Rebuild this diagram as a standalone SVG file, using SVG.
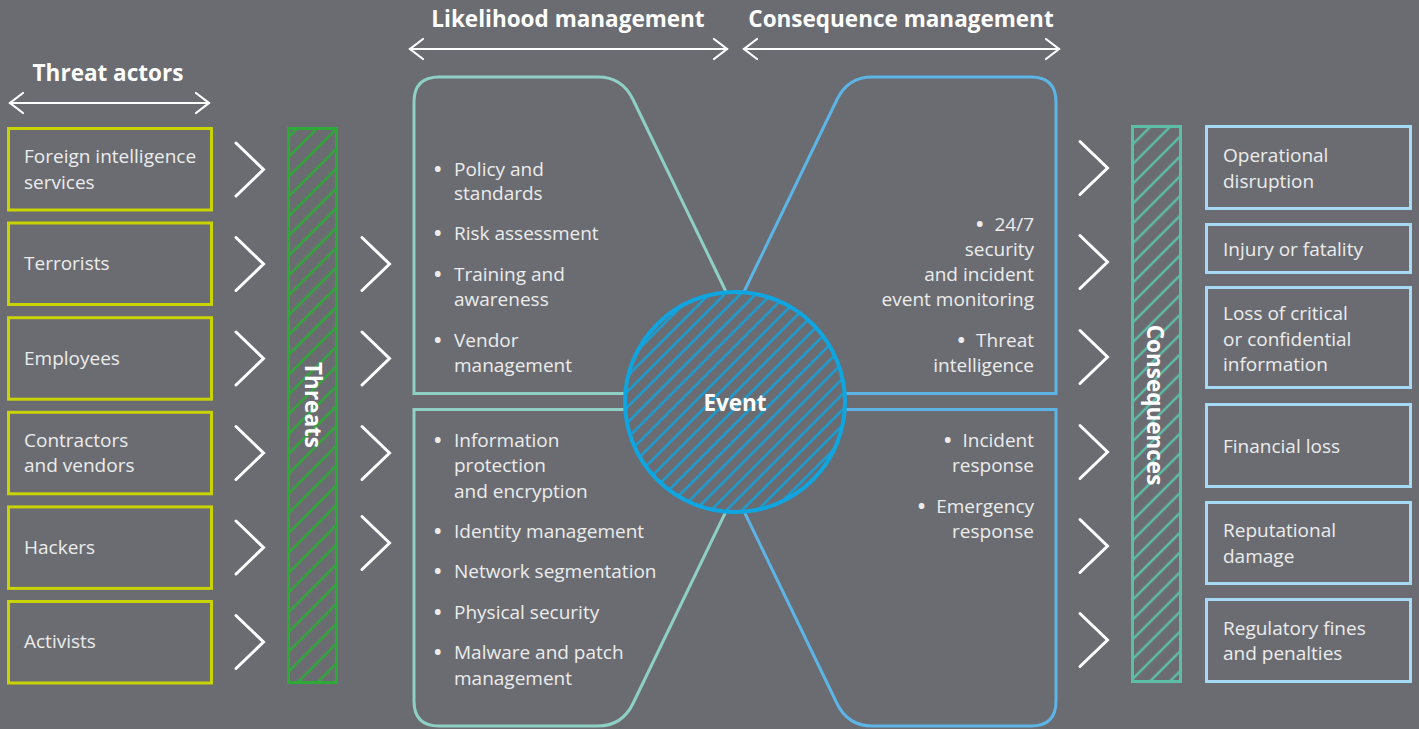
<svg xmlns="http://www.w3.org/2000/svg" width="1419" height="729" viewBox="0 0 1419 729">
<defs>
<style>
.bg{fill:#6b6c72}
.t{font-family:"Open Sans","Liberation Sans",sans-serif;font-size:19px;fill:#ececec}
.b{font-weight:bold;font-size:20px}
.h{font-family:"Open Sans","Liberation Sans",sans-serif;font-size:22.5px;font-weight:bold;fill:#ffffff}
.actor{fill:none;stroke:#c9d300;stroke-width:3}
.cons{fill:none;stroke:#a6d9f3;stroke-width:3}
.chev{fill:none;stroke:#ffffff;stroke-width:3;stroke-linecap:round;stroke-linejoin:miter}
.arr{fill:none;stroke:#ffffff;stroke-width:2.2;stroke-linecap:round}
.lm{fill:none;stroke:#8fd0c6;stroke-width:3}
.cm{fill:none;stroke:#5cb5e6;stroke-width:3}
</style>
<pattern id="hatchG" patternUnits="userSpaceOnUse" width="14" height="14" patternTransform="rotate(45)">
<line x1="7" y1="0" x2="7" y2="14" stroke="#2ea836" stroke-width="2.4"/>
</pattern>
<pattern id="hatchT" patternUnits="userSpaceOnUse" width="14" height="14" patternTransform="rotate(45)">
<line x1="7" y1="0" x2="7" y2="14" stroke="#5cbea6" stroke-width="2.4"/>
</pattern>
<pattern id="hatchB" patternUnits="userSpaceOnUse" width="11" height="11" patternTransform="rotate(45)">
<line x1="5.5" y1="0" x2="5.5" y2="11" stroke="#0ea5e0" stroke-width="2.2"/>
</pattern>
<symbol id="chev" overflow="visible"><polyline class="chev" points="0,-26.5 27.5,0 0,26.5"/></symbol>
</defs>
<rect class="bg" x="0" y="0" width="1419" height="729"/>

<g id="headers">
<text class="h" x="108" y="81" text-anchor="middle">Threat actors</text>
<g class="arr"><line x1="10" y1="103" x2="209" y2="103"/><polyline points="23,93 10,103 23,113"/><polyline points="196,93 209,103 196,113"/></g>
<text class="h" x="568" y="27" text-anchor="middle">Likelihood management</text>
<g class="arr"><line x1="410" y1="49" x2="727" y2="49"/><polyline points="423,39 410,49 423,59"/><polyline points="714,39 727,49 714,59"/></g>
<text class="h" x="901" y="27" text-anchor="middle">Consequence management</text>
<g class="arr"><line x1="744" y1="49" x2="1059" y2="49"/><polyline points="757,39 744,49 757,59"/><polyline points="1046,39 1059,49 1046,59"/></g>
</g>

<g id="actor-foreign"><rect class="actor" x="8.5" y="128.5" width="203" height="81.5"/><text class="t" x="24" y="163">Foreign intelligence</text><text class="t" x="24" y="189">services</text></g>
<g id="actor-terrorists"><rect class="actor" x="8.5" y="223" width="203" height="81.5"/><text class="t" x="24" y="270">Terrorists</text></g>
<g id="actor-employees"><rect class="actor" x="8.5" y="317.7" width="203" height="81.5"/><text class="t" x="24" y="365">Employees</text></g>
<g id="actor-contractors"><rect class="actor" x="8.5" y="412.3" width="203" height="81.5"/><text class="t" x="24" y="447">Contractors</text><text class="t" x="24" y="472">and vendors</text></g>
<g id="actor-hackers"><rect class="actor" x="8.5" y="506.9" width="203" height="81.5"/><text class="t" x="24" y="554">Hackers</text></g>
<g id="actor-activists"><rect class="actor" x="8.5" y="601.5" width="203" height="81.5"/><text class="t" x="24" y="648">Activists</text></g>

<g id="threats">
<rect x="288.5" y="128.5" width="48" height="554" fill="url(#hatchG)" stroke="#2ea836" stroke-width="3"/>
<text class="h" x="313" y="405" text-anchor="middle" transform="rotate(90 313 405)" dy="8">Threats</text>
</g>

<g id="likelihood-top">
<path class="lm" d="M 730 300 L 633 99.5 Q 622 77 598 77 H 439 Q 414 77 414 102 V 393.5 H 735"/>
<g class="t"><text class="b" x="434" y="176">•</text><text x="454" y="176">Policy and</text><text x="454" y="200">standards</text>
<text class="b" x="434" y="240">•</text><text x="454" y="240">Risk assessment</text>
<text class="b" x="434" y="281">•</text><text x="454" y="281">Training and</text><text x="454" y="306">awareness</text>
<text class="b" x="434" y="347">•</text><text x="454" y="347">Vendor</text><text x="454" y="372">management</text></g>
</g>

<g id="likelihood-bottom">
<path class="lm" d="M 730 503 L 633 703.5 Q 622 726 598 726 H 439 Q 414 726 414 701 V 409.5 H 735"/>
<g class="t"><text class="b" x="434" y="447">•</text><text x="454" y="447">Information</text><text x="454" y="472">protection</text><text x="454" y="498">and encryption</text>
<text class="b" x="434" y="538">•</text><text x="454" y="538">Identity management</text>
<text class="b" x="434" y="578">•</text><text x="454" y="578">Network segmentation</text>
<text class="b" x="434" y="619">•</text><text x="454" y="619">Physical security</text>
<text class="b" x="434" y="659">•</text><text x="454" y="659">Malware and patch</text><text x="454" y="685">management</text></g>
</g>

<g id="consequence-top">
<path class="cm" d="M 740 300 L 837 99.5 Q 848 77 872 77 H 1031 Q 1056 77 1056 102 V 393.5 H 735"/>
<g class="t" text-anchor="end"><text x="1034" y="231"><tspan class="b">•</tspan><tspan dx="11">24/7</tspan></text><text x="1034" y="256">security</text><text x="1034" y="281">and incident</text><text x="1034" y="306">event monitoring</text>
<text x="1034" y="347"><tspan class="b">•</tspan><tspan dx="11">Threat</tspan></text><text x="1034" y="372">intelligence</text></g>
</g>

<g id="consequence-bottom">
<path class="cm" d="M 740 503 L 837 703.5 Q 848 726 872 726 H 1031 Q 1056 726 1056 701 V 409.5 H 735"/>
<g class="t" text-anchor="end"><text x="1034" y="447"><tspan class="b">•</tspan><tspan dx="11">Incident</tspan></text><text x="1034" y="472">response</text>
<text x="1034" y="513"><tspan class="b">•</tspan><tspan dx="11">Emergency</tspan></text><text x="1034" y="538">response</text></g>
</g>

<g id="event">
<circle cx="735" cy="402" r="110" fill="#6b6c72"/>
<circle cx="735" cy="402" r="110" fill="url(#hatchB)" stroke="#0ea5e0" stroke-width="4"/>
<text class="h" x="735" y="411" text-anchor="middle">Event</text>
</g>

<g id="consequences">
<rect x="1132.5" y="126.5" width="48" height="555" fill="url(#hatchT)" stroke="#5cbea6" stroke-width="3"/>
<text class="h" x="1156" y="405" text-anchor="middle" transform="rotate(90 1156 405)" dy="9">Consequences</text>
</g>

<g id="cons-operational"><rect class="cons" x="1206.5" y="126.5" width="204" height="82"/><text class="t" x="1223" y="162">Operational</text><text class="t" x="1223" y="188">disruption</text></g>
<g id="cons-injury"><rect class="cons" x="1206.5" y="224.5" width="204" height="48"/><text class="t" x="1223" y="256">Injury or fatality</text></g>
<g id="cons-loss"><rect class="cons" x="1206.5" y="287.5" width="204" height="100"/><text class="t" x="1223" y="320">Loss of critical</text><text class="t" x="1223" y="346">or confidential</text><text class="t" x="1223" y="371">information</text></g>
<g id="cons-financial"><rect class="cons" x="1206.5" y="404.5" width="204" height="82"/><text class="t" x="1223" y="453">Financial loss</text></g>
<g id="cons-reputational"><rect class="cons" x="1206.5" y="502.5" width="204" height="81"/><text class="t" x="1223" y="537">Reputational</text><text class="t" x="1223" y="563">damage</text></g>
<g id="cons-regulatory"><rect class="cons" x="1206.5" y="599.5" width="204" height="82"/><text class="t" x="1223" y="635">Regulatory fines</text><text class="t" x="1223" y="660">and penalties</text></g>

<g id="connectors">
<use href="#chev" x="236" y="169.5"/>
<use href="#chev" x="236" y="264"/>
<use href="#chev" x="236" y="358.5"/>
<use href="#chev" x="236" y="453"/>
<use href="#chev" x="236" y="547.5"/>
<use href="#chev" x="236" y="642"/>
<use href="#chev" x="362" y="264"/>
<use href="#chev" x="362" y="358.5"/>
<use href="#chev" x="362" y="453"/>
<use href="#chev" x="362" y="543"/>
<use href="#chev" x="1080" y="168"/>
<use href="#chev" x="1080" y="262"/>
<use href="#chev" x="1080" y="357"/>
<use href="#chev" x="1080" y="452"/>
<use href="#chev" x="1080" y="546"/>
<use href="#chev" x="1080" y="640"/>
</g>
</svg>
